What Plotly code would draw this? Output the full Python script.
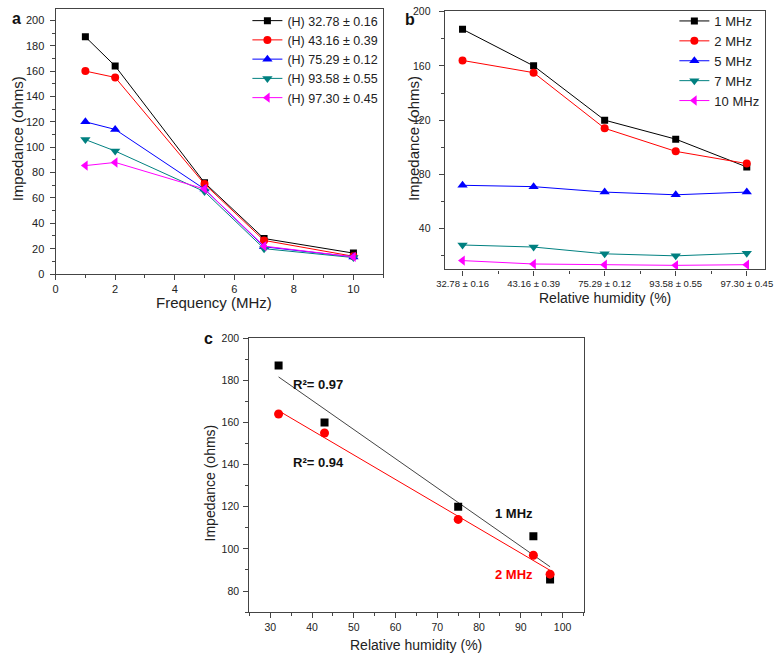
import numpy as np
import plotly.graph_objects as go

# ---------------- data ----------------
freqs_mhz = [1, 2, 5, 7, 10]
freq_names = ["1 MHz", "2 MHz", "5 MHz", "7 MHz", "10 MHz"]
humidity_labels = ["32.78 ± 0.16", "43.16 ± 0.39", "75.29 ± 0.12", "93.58 ± 0.55", "97.30 ± 0.45"]
humidity_c = [32, 43, 75, 93, 97]

imp_1MHz = [187, 160, 120, 106, 85.5]
imp_2MHz = [164, 155, 114, 97, 88]
imp_5MHz = [72, 71, 67, 65, 67]
imp_7MHz = [28, 26.5, 21.5, 20, 22]
imp_10MHz = [16.5, 14, 13.5, 13, 13.5]

r2_labels = ["R²= 0.97", "R²= 0.94"]

# ---------------- styling ----------------
W, H = 784, 661
colors = ["#000000", "#ff0000", "#0000ff", "#008080", "#ff00ff"]
symbols = ["square", "circle", "triangle-up", "triangle-down", "triangle-left"]
msizes = [7, 8, 9, 9, 9]
FONT = "Liberation Sans, Arial, sans-serif"
AX = "#444444"

def px_x(px):
    return px / W

def px_y(py):
    return 1 - py / H

by_freq = [imp_1MHz, imp_2MHz, imp_5MHz, imp_7MHz, imp_10MHz]

fig = go.Figure()

# Panel a: impedance vs frequency, one line per humidity
for i, hl in enumerate(humidity_labels):
    yvals = [series[i] for series in by_freq]
    fig.add_trace(go.Scatter(
        x=freqs_mhz, y=yvals, mode="lines+markers", name="(H) " + hl,
        line=dict(color=colors[i], width=1),
        marker=dict(symbol=symbols[i], size=msizes[i], color=colors[i]),
        xaxis="x", yaxis="y", legend="legend"))

# Panel b: impedance vs humidity, one line per frequency
for j, series in enumerate(by_freq):
    fig.add_trace(go.Scatter(
        x=list(range(len(humidity_labels))), y=series, mode="lines+markers", name=freq_names[j],
        line=dict(color=colors[j], width=1),
        marker=dict(symbol=symbols[j], size=msizes[j], color=colors[j]),
        xaxis="x2", yaxis="y2", legend="legend2"))

# Panel c: linear fits
for series, col, sym, ms in [(imp_1MHz, "#000000", "square", 8), (imp_2MHz, "#ff0000", "circle", 9)]:
    slope, icpt = np.polyfit(humidity_c, series, 1)
    xs = [min(humidity_c), max(humidity_c)]
    fig.add_trace(go.Scatter(
        x=xs, y=[slope * v + icpt for v in xs], mode="lines",
        line=dict(color=col if col != "#000000" else "#444444", width=1),
        showlegend=False, xaxis="x3", yaxis="y3"))
    fig.add_trace(go.Scatter(
        x=humidity_c, y=series, mode="markers",
        marker=dict(symbol=sym, size=ms, color=col),
        showlegend=False, xaxis="x3", yaxis="y3"))

axis_common = dict(showline=True, linecolor=AX, linewidth=1.2, mirror=True, ticks="outside",
                   ticklen=5, tickwidth=1, tickcolor=AX, showgrid=False, zeroline=False,
                   tickfont=dict(family=FONT, size=11, color="#222"))

def ax(**kw):
    d = dict(axis_common)
    d.update(kw)
    return d

fig.update_layout(
    width=W, height=H, margin=dict(l=0, r=0, t=0, b=0),
    paper_bgcolor="white", plot_bgcolor="white",
    font=dict(family=FONT, color="#222"),
    xaxis=ax(domain=[px_x(47.7), px_x(383)], range=[0, 11], dtick=2, tick0=0,
             minor=dict(dtick=1, ticklen=3, ticks="outside", tickcolor=AX), anchor="y"),
    yaxis=ax(domain=[px_y(273), px_y(3)], range=[0, 209], dtick=20, tick0=0,
             minor=dict(dtick=10, ticklen=3, ticks="outside", tickcolor=AX), anchor="x",
             ticklabelstandoff=3),
    xaxis2=ax(domain=[px_x(446), px_x(773.3)], range=[-0.25, 4.25], tickmode="array",
              tickvals=list(range(len(humidity_labels))), ticktext=humidity_labels,
              minor=dict(tickmode="linear", tick0=-0.5, dtick=1, ticklen=3, ticks="outside", tickcolor=AX),
              anchor="y2", tickfont=dict(family=FONT, size=9.5, color="#222")),
    yaxis2=ax(domain=[px_y(268.3), px_y(5)], range=[10, 200.5], tickmode="array",
              tickvals=[40, 80, 120, 160, 200],
              minor=dict(tickmode="linear", tick0=0, dtick=20, ticklen=3, ticks="outside", tickcolor=AX),
              anchor="x2", ticklabelstandoff=6, tickfont=dict(family=FONT, size=10.5, color="#222")),
    xaxis3=ax(domain=[px_x(246), px_x(588)], range=[25, 105], dtick=10, tick0=0,
              minor=dict(dtick=5, ticklen=3, ticks="outside", tickcolor=AX), anchor="y3",
              tickfont=dict(family=FONT, size=10.5, color="#222")),
    yaxis3=ax(domain=[px_y(617.3), px_y(338.3)], range=[70, 200], dtick=20, tick0=0,
              minor=dict(dtick=10, ticklen=3, ticks="outside", tickcolor=AX), anchor="x3",
              ticklabelstandoff=2, tickfont=dict(family=FONT, size=10.5, color="#222")),
    legend=dict(x=px_x(244), y=1, xanchor="left", yanchor="top", bgcolor="rgba(0,0,0,0)",
                font=dict(family=FONT, size=12.5, color="#222"), tracegroupgap=0),
    legend2=dict(x=px_x(681), y=1, xanchor="left", yanchor="top", bgcolor="rgba(0,0,0,0)",
                 font=dict(family=FONT, size=13, color="#222"), tracegroupgap=0),
)

annots = [
    # panel labels
    dict(text="a", x=px_x(8), y=px_y(13), size=16, color="#111", bold=True),
    dict(text="b", x=px_x(410), y=px_y(14), size=16, color="#111", bold=True),
    dict(text="c", x=px_x(204), y=px_y(339), size=16, color="#111", bold=True),
    # axis titles
    dict(text="Frequency (MHz)", x=px_x(210), y=px_y(302), size=15, color="#222"),
    dict(text="Relative humidity (%)", x=px_x(610), y=px_y(297), size=14, color="#222"),
    dict(text="Relative humidity (%)", x=px_x(417), y=px_y(651), size=14, color="#222"),
    dict(text="Impedance (ohms)", x=px_x(9), y=px_y(135), size=15, color="#222", angle=-90),
    dict(text="Impedance (ohms)", x=px_x(414), y=px_y(135), size=15, color="#222", angle=-90),
    dict(text="Impedance (ohms)", x=px_x(206), y=px_y(486), size=14, color="#222", angle=-90),
]
for a in annots:
    fig.add_annotation(text=a["text"], x=a["x"], y=a["y"], xref="paper", yref="paper",
                       showarrow=False, textangle=a.get("angle", 0),
                       font=dict(family=FONT, size=a["size"], color=a["color"],
                                 weight="bold" if a.get("bold") else "normal"),
                       xanchor="center", yanchor="middle")

# panel c text labels (data coordinates)
c_texts = [
    (r2_labels[0], 35, 178, "left", "#111"),
    (r2_labels[1], 35, 141, "left", "#111"),
    (freq_names[0], 88.3, 116.6, "center", "#111"),
    (freq_names[1], 88.3, 87.8, "center", "#ff0000"),
]
for txt, xv, yv, anc, col in c_texts:
    fig.add_annotation(text=txt, x=xv, y=yv, xref="x3", yref="y3", showarrow=False, xanchor=anc,
                       font=dict(family=FONT, size=13, color=col, weight="bold"))

fig.write_html("out.html", post_script="document.body.style.margin='0';",
               config={"displayModeBar": False})
